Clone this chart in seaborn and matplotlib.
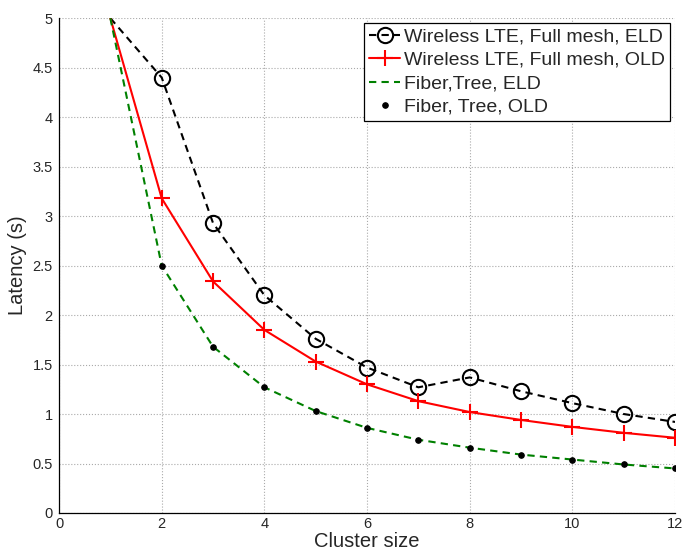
import numpy as np
import pandas as pd
import matplotlib
matplotlib.use("Agg")
import matplotlib.pyplot as plt
import seaborn as sns

cluster_size = [1, 2, 3, 4, 5, 6, 7, 8, 9, 10, 11, 12]
lte_eld = [5.0, 4.40, 2.93, 2.20, 1.76, 1.47, 1.27, 1.37, 1.23, 1.11, 1.00, 0.92]
lte_old = [5.0, 3.18, 2.34, 1.85, 1.53, 1.30, 1.13, 1.02, 0.94, 0.87, 0.81, 0.76]
fiber_eld = [5.0, 2.50, 1.68, 1.27, 1.03, 0.86, 0.74, 0.66, 0.59, 0.54, 0.49, 0.45]
fiber_old = [5.0, 2.50, 1.68, 1.27, 1.03, 0.86, 0.74, 0.66, 0.59, 0.54, 0.49, 0.45]

sns.set_style("white")
plt.rcParams['font.family'] = ['Liberation Sans', 'DejaVu Sans']

fig = plt.figure(figsize=(6.84, 5.51), dpi=100)
ax = fig.add_axes([0.0863, 0.069, 0.9006, 0.898])

df = pd.DataFrame({'x': cluster_size, 'lte_eld': lte_eld, 'lte_old': lte_old,
                   'fiber_eld': fiber_eld, 'fiber_old': fiber_old})

# the first point sits on the top edge, no marker is drawn there
skip_first = list(range(1, len(cluster_size)))

sns.lineplot(data=df, x='x', y='lte_eld', ax=ax, color='black', linestyle=(0, (3.5, 2.5)),
             linewidth=1.5, marker='o', markersize=11, markerfacecolor='none',
             markeredgecolor='black', markeredgewidth=1.5, markevery=skip_first,
             label='Wireless LTE, Full mesh, ELD')
sns.lineplot(data=df, x='x', y='lte_old', ax=ax, color='red', linestyle='-',
             linewidth=1.5, marker='+', markersize=11, markeredgewidth=1.5,
             markeredgecolor='red', markevery=skip_first,
             label='Wireless LTE, Full mesh, OLD')
sns.lineplot(data=df, x='x', y='fiber_eld', ax=ax, color='green', linestyle=(0, (3.5, 2.5)),
             linewidth=1.5, label='Fiber,Tree, ELD')
sns.lineplot(data=df, x='x', y='fiber_old', ax=ax, color='black', linestyle='none',
             marker='.', markersize=8, markeredgecolor='black', markevery=skip_first,
             label='Fiber, Tree, OLD')

ax.set_xlim(0, 12)
ax.set_ylim(0, 5)
ax.set_xticks(range(0, 13, 2))
ax.set_yticks(np.arange(0, 5.01, 0.5))
ax.set_yticklabels(['0', '0.5', '1', '1.5', '2', '2.5', '3', '3.5', '4', '4.5', '5'])
ax.grid(True, linestyle=':', color='#aaaaaa', linewidth=0.8)
ax.tick_params(axis='y', direction='out', labelsize=10.5, length=3, color='black', pad=1.5)
ax.tick_params(axis='x', direction='out', labelsize=10.5, length=2, color='black', pad=1)
sns.despine(ax=ax)
for s in ['left', 'bottom']:
    ax.spines[s].set_color('black')
    ax.spines[s].set_linewidth(0.9)

ax.set_xlabel('Cluster size', fontsize=14.5, va='top')
ax.xaxis.set_label_coords(0.5, -0.039)
ax.set_ylabel('Latency (s)', fontsize=14.5, labelpad=4)

leg = ax.legend(loc='upper right', fontsize=14, frameon=True, fancybox=False,
                edgecolor='black', framealpha=1, handlelength=1.6,
                handletextpad=0.2, borderpad=0.25, labelspacing=0.3,
                borderaxespad=0.25)
leg.get_frame().set_linewidth(0.9)

fig.savefig('out.png', dpi=100)
